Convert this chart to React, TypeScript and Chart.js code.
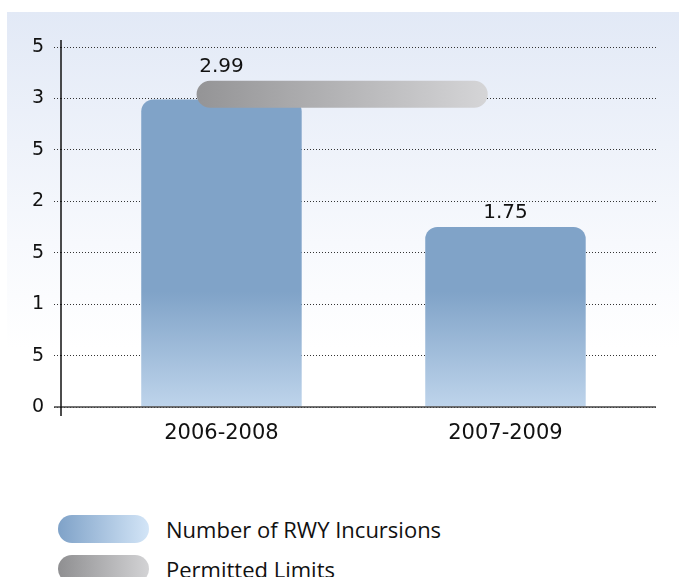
import React, { useEffect, useRef } from "react";
import { Chart, registerables } from "chart.js";

Chart.register(...registerables);

const categories = ["2006-2008", "2007-2009"];
const incursions = [2.99, 1.75];
const limitValue = 3.04;
const limitStart = -0.04;
const limitEnd = 0.89;
const yTickLabels = ["0", "5", "1", "5", "2", "5", "3", "5"];
const seriesLabels = ["Number of RWY Incursions", "Permitted Limits"];

const TEXT_FONT = "'DejaVu Sans', sans-serif";
const LEGEND_FONT = "'Open Sans', sans-serif";
const LIMIT_WIDTH = 27;

const axesPlugin = {
  id: "axesLines",
  afterDatasetsDraw(chart: any) {
    const { ctx, chartArea } = chart;
    ctx.save();
    ctx.strokeStyle = "#444";
    ctx.lineWidth = 1.5;
    ctx.beginPath();
    ctx.moveTo(chartArea.left - 7, chartArea.bottom);
    ctx.lineTo(chartArea.right, chartArea.bottom);
    ctx.stroke();
    ctx.strokeStyle = "#111";
    ctx.beginPath();
    ctx.moveTo(chartArea.left, chartArea.top - 7);
    ctx.lineTo(chartArea.left, chartArea.bottom + 9);
    ctx.stroke();
    ctx.restore();
  },
};

const valueLabelPlugin = {
  id: "valueLabels",
  afterDatasetsDraw(chart: any) {
    const { ctx } = chart;
    const meta = chart.getDatasetMeta(0);
    const xs = chart.scales.x;
    const ys = chart.scales.y;
    const xl = xs.getPixelForValue(limitStart) - LIMIT_WIDTH / 2;
    const xr = xs.getPixelForValue(limitEnd) + LIMIT_WIDTH / 2;
    const limitTop = ys.getPixelForValue(limitValue) - LIMIT_WIDTH / 2;
    ctx.save();
    ctx.font = `20px ${TEXT_FONT}`;
    ctx.fillStyle = "#111";
    ctx.textAlign = "center";
    ctx.textBaseline = "alphabetic";
    meta.data.forEach((bar: any, i: number) => {
      let base = bar.y;
      if (bar.x >= xl && bar.x <= xr) base = Math.min(base, limitTop);
      ctx.fillText(incursions[i].toFixed(2), bar.x, base - 9);
    });
    ctx.restore();
  },
};

export default function App() {
  const canvasRef = useRef<HTMLCanvasElement | null>(null);

  useEffect(() => {
    document.body.style.margin = "0";
    const canvas = canvasRef.current;
    if (!canvas) return;
    const chart = new Chart(canvas, {
      type: "bar",
      data: {
        datasets: [
          {
            type: "bar",
            label: seriesLabels[0],
            data: categories.map((_, i) => ({ x: i, y: incursions[i] })),
            backgroundColor: (c: any) => {
              const area = c.chart.chartArea;
              if (!area) return "#80a3c8";
              const g = c.chart.ctx.createLinearGradient(0, area.top, 0, area.bottom);
              g.addColorStop(0, "#80a3c8");
              g.addColorStop(0.68, "#80a3c8");
              g.addColorStop(1, "#bed4eb");
              return g;
            },
            borderWidth: 0,
            borderRadius: { topLeft: 12, topRight: 12, bottomLeft: 0, bottomRight: 0 },
            borderSkipped: "bottom",
            categoryPercentage: 1,
            barPercentage: 0.565,
            order: 2,
          } as any,
          {
            type: "line",
            label: seriesLabels[1],
            data: [
              { x: limitStart, y: limitValue },
              { x: limitEnd, y: limitValue },
            ],
            borderWidth: LIMIT_WIDTH,
            borderCapStyle: "round",
            pointRadius: 0,
            pointHoverRadius: 0,
            fill: false,
            borderColor: (c: any) => {
              const xs = c.chart.scales?.x;
              if (!xs || !c.chart.chartArea) return "#b0b0b2";
              const g = c.chart.ctx.createLinearGradient(
                xs.getPixelForValue(limitStart) - LIMIT_WIDTH / 2,
                0,
                xs.getPixelForValue(limitEnd) + LIMIT_WIDTH / 2,
                0
              );
              g.addColorStop(0, "#949496");
              g.addColorStop(1, "#d5d5d7");
              return g;
            },
            order: 1,
          } as any,
        ],
      },
      options: {
        animation: false,
        responsive: false,
        maintainAspectRatio: false,
        layout: { padding: { top: 47, right: 23, bottom: 0, left: 0 } },
        plugins: {
          legend: { display: false },
          tooltip: { enabled: false },
        },
        scales: {
          x: {
            type: "linear",
            min: -0.565,
            max: 1.53,
            offset: false,
            afterBuildTicks: (scale: any) => {
              scale.ticks = categories.map((_, i) => ({ value: i }));
            },
            afterFit: (scale: any) => {
              scale.height = 63;
            },
            grid: { display: false, drawTicks: false, offset: false },
            border: { display: false },
            ticks: {
              callback: (v: any) => categories[v] ?? "",
              font: { family: TEXT_FONT, size: 21 },
              color: "#111",
              padding: 14,
              maxRotation: 0,
              autoSkip: false,
            },
          },
          y: {
            min: 0,
            max: 3.5,
            afterFit: (scale: any) => {
              scale.width = 61;
            },
            ticks: {
              stepSize: 0.5,
              callback: (_v: any, i: number) => yTickLabels[i],
              font: { family: TEXT_FONT, size: 19 },
              color: "#111",
              padding: 10,
            },
            grid: {
              color: "#333",
              lineWidth: 1,
              tickLength: 7,
              tickColor: "#333",
              tickBorderDash: [1, 2],
            },
            border: { display: false, dash: [1, 2] },
          },
        },
      } as any,
      plugins: [axesPlugin, valueLabelPlugin],
    });
    return () => chart.destroy();
  }, []);

  const legendItems = [
    { label: seriesLabels[0], bg: "linear-gradient(to right, #7fa2c8, #d3e5f7)" },
    { label: seriesLabels[1], bg: "linear-gradient(to right, #8f8f91, #d3d3d5)" },
  ];

  return (
    <div style={{ position: "relative", width: 679, height: 577, overflow: "hidden", background: "#fff" }}>
      <div
        style={{
          position: "absolute",
          left: 7,
          top: 12,
          width: 672,
          height: 420,
          background: "linear-gradient(to bottom, #e2e9f6 0%, #f7f9fd 55%, #ffffff 80%)",
        }}
      />
      <canvas
        ref={canvasRef}
        width={679}
        height={470}
        style={{ position: "absolute", left: 0, top: 0, width: 679, height: 470 }}
      />
      {legendItems.map((item, i) => (
        <div key={item.label} style={{ position: "absolute", left: 58, top: 515 + i * 40, height: 28, display: "flex", alignItems: "center" }}>
          <div style={{ width: 91, height: 28, borderRadius: 14, background: item.bg }} />
          <span
            style={{
              marginLeft: 17,
              fontFamily: LEGEND_FONT,
              fontSize: 22,
              lineHeight: "28px",
              color: "#111",
              whiteSpace: "nowrap",
            }}
          >
            {item.label}
          </span>
        </div>
      ))}
    </div>
  );
}
